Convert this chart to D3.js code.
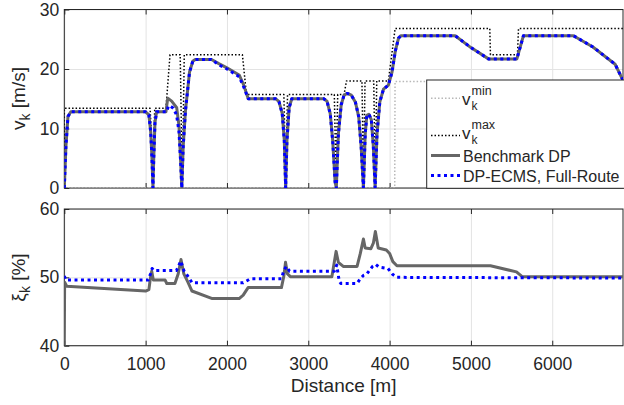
<!DOCTYPE html>
<html>
<head>
<meta charset="utf-8">
<script src="https://cdn.jsdelivr.net/npm/d3@7"></script>
<style>
body { margin: 0; background: #fff; }
text { font-family: "Liberation Sans", Arial, Helvetica, sans-serif; fill: #262626; }
</style>
</head>
<body>
<div id="chart"></div>
<script>
// ---- data ----
var xTicks = [0, 1000, 2000, 3000, 4000, 5000, 6000];
var vTicks = [0, 10, 20, 30];
var xiTicks = [40, 50, 60];

var vMinD = [0, 4063, 4067, 5245, 5250, 5560, 5565, 6870];
var vMinV = [0, 0, 17.9, 17.9, 0, 0, 17.9, 17.9];

var vMaxD = [0, 0, 1055, 1075, 1090, 1100, 1112, 1250, 1300, 1425, 1440, 1450, 1462, 1475, 2190, 2240, 2700, 2712, 2722, 2732, 2745, 3320, 3332, 3340, 3350, 3362, 3440, 3470, 3660, 3670, 3678, 3688, 3698, 3805, 3815, 3822, 3832, 3842, 3985, 4068, 5232, 5240, 5572, 5585, 6870];
var vMaxV = [0, 13.4, 13.4, 8, 0, 8, 13.4, 13.4, 22.4, 22.4, 10, 0, 10, 22.4, 22.4, 15.7, 15.7, 8, 0, 8, 15.7, 15.7, 8, 0, 8, 15.7, 15.7, 18, 18, 9, 0, 9, 18, 18, 9, 0, 9, 18, 18, 26.8, 26.8, 22.4, 22.4, 26.8, 26.8];

var dpD = [0, 20, 45, 80, 1000, 1040, 1062, 1078, 1090, 1100, 1115, 1135, 1250, 1272, 1320, 1382, 1410, 1432, 1445, 1462, 1490, 1540, 1580, 1610, 1810, 1900, 2000, 2150, 2200, 2262, 2600, 2640, 2680, 2705, 2722, 2738, 2765, 2797, 3190, 3230, 3270, 3300, 3330, 3345, 3370, 3405, 3440, 3480, 3530, 3580, 3620, 3650, 3678, 3700, 3720, 3745, 3775, 3800, 3822, 3845, 3880, 3925, 3985, 4030, 4070, 4110, 4140, 4806, 5000, 5216, 5565, 5646, 6261, 6500, 6773, 6870];
var dpV = [0, 7, 12, 12.8, 12.8, 12.3, 9.5, 5, 0, 5, 11, 12.8, 12.8, 15.1, 14.6, 13.5, 10.5, 4, 0, 7, 13, 19.5, 21.3, 21.6, 21.6, 20.9, 20.2, 19, 17.5, 15, 15, 14.5, 12.5, 8, 0, 8, 13.5, 15, 15, 14.6, 12.5, 8, 1, 0, 9, 14, 15.6, 15.9, 15.6, 14.4, 12, 7, 0, 9, 12.2, 12.4, 11.5, 7, 0, 9, 14.5, 16.6, 17.3, 19.5, 23, 25.2, 25.6, 25.6, 23.6, 21.7, 21.7, 25.6, 25.6, 23.7, 20.8, 18.1];

var ecD = [0, 20, 45, 80, 1000, 1040, 1062, 1078, 1090, 1100, 1115, 1135, 1260, 1280, 1300, 1340, 1380, 1410, 1432, 1445, 1462, 1490, 1540, 1580, 1610, 1810, 1900, 2000, 2150, 2200, 2262, 2600, 2640, 2680, 2705, 2722, 2738, 2765, 2797, 3190, 3230, 3270, 3300, 3330, 3345, 3370, 3405, 3440, 3480, 3530, 3580, 3620, 3650, 3678, 3700, 3720, 3745, 3775, 3800, 3822, 3845, 3880, 3925, 3985, 4030, 4070, 4110, 4140, 4806, 5000, 5216, 5565, 5646, 6261, 6500, 6773, 6870];
var ecV = [0, 7, 12, 12.8, 12.8, 12.3, 9.5, 5, 0, 5, 11, 12.8, 12.8, 13.8, 13.8, 13.4, 12.3, 9.5, 4, 0, 7, 13, 19.5, 21.3, 21.6, 21.6, 20.7, 20, 18.7, 17.2, 15, 15, 14.5, 12.5, 8, 0, 8, 13.5, 15, 15, 14.6, 12.5, 8, 1, 0, 9, 14, 15.6, 15.9, 15.6, 14.4, 12, 7, 0, 9, 12.2, 12.4, 11.5, 7, 0, 9, 14.5, 16.6, 17.3, 19.5, 23, 25.2, 25.6, 25.6, 23.6, 21.7, 21.7, 25.6, 25.6, 23.7, 20.8, 18.1];

var dpXiD = [0, 4, 30, 1000, 1040, 1060, 1075, 1095, 1240, 1260, 1360, 1400, 1435, 1470, 1520, 1570, 1820, 2150, 2200, 2260, 2670, 2700, 2720, 2745, 2780, 3290, 3310, 3342, 3370, 3430, 3600, 3640, 3678, 3700, 3770, 3800, 3825, 3860, 3960, 4000, 4040, 4090, 5240, 5560, 5630, 6870];
var dpXi = [40, 49.3, 48.7, 48.0, 48.2, 50.0, 50.9, 49.6, 49.6, 49.1, 49.1, 50.5, 52.6, 50.5, 49.3, 48.0, 46.9, 46.9, 47.4, 48.5, 48.5, 50.2, 52.2, 50.5, 50.1, 50.1, 51.5, 53.8, 52.2, 51.6, 51.6, 53.5, 55.6, 54.3, 54.2, 55.0, 56.7, 54.3, 54.0, 53.5, 52.3, 51.7, 51.7, 50.8, 50.1, 50.1];

var ecXiD = [0, 20, 1030, 1060, 1080, 1100, 1380, 1432, 1470, 1530, 1570, 2200, 2290, 2670, 2700, 2730, 2770, 3320, 3350, 3380, 3400, 3600, 3640, 3680, 3720, 3790, 3830, 3870, 3980, 4040, 4090, 6870];
var ecXi = [50.2, 49.6, 49.6, 50.5, 51.3, 51.0, 51.0, 52.4, 51.0, 50.0, 49.2, 49.2, 49.8, 49.8, 51.0, 51.6, 50.9, 50.9, 51.8, 49.5, 49.1, 49.1, 49.8, 50.3, 50.5, 51.6, 51.9, 51.5, 51.3, 50.4, 50.0, 49.9];

function pairs(d, v) {
	return d.map(function(dd, i) { return [dd, v[i]]; });
}

// ---- layout ----
var W = 624, H = 405;
var left = 64.3, right = 623;
var svg = d3.select("#chart").append("svg").attr("width", W).attr("height", H);

var x = d3.scaleLinear().domain([0, 6870]).range([left, right]);
var yTop = d3.scaleLinear().domain([0, 30]).range([188, 9.5]);
var yBot = d3.scaleLinear().domain([40, 60]).range([345.7, 209]);

function styleGrid(s) {
	s.select(".domain").remove();
	s.selectAll("line").attr("stroke", "#e3e3e3");
}

function styleTicks(s) {
	s.select(".domain").remove();
	s.selectAll("line").attr("stroke", "#262626");
	s.selectAll("text").attr("font-size", "17.5px").attr("fill", "#262626")
		.attr("font-family", "Liberation Sans, Arial, sans-serif");
}

function drawPanel(id, y, yticks, xlabels) {
	var g = svg.append("g");
	var top = y.range()[1], bot = y.range()[0];
	svg.append("clipPath").attr("id", id).append("rect")
		.attr("x", left).attr("y", top).attr("width", right - left).attr("height", bot - top);

	// grid
	g.append("g").attr("transform", "translate(0," + bot + ")")
		.call(d3.axisBottom(x).tickValues(xTicks).tickSize(-(bot - top)).tickFormat(""))
		.call(styleGrid);
	g.append("g").attr("transform", "translate(" + left + ",0)")
		.call(d3.axisLeft(y).tickValues(yticks).tickSize(-(right - left)).tickFormat(""))
		.call(styleGrid);

	// box
	g.append("rect").attr("x", left).attr("y", top).attr("width", right - left).attr("height", bot - top)
		.attr("fill", "none").attr("stroke", "#262626").attr("stroke-width", 1);

	// ticks (inward, all sides)
	g.append("g").attr("transform", "translate(0," + bot + ")")
		.call(d3.axisBottom(x).tickValues(xTicks).tickSize(-5).tickPadding(12)
			.tickFormat(xlabels ? d3.format("d") : ""))
		.call(styleTicks);
	g.append("g").attr("transform", "translate(0," + top + ")")
		.call(d3.axisTop(x).tickValues(xTicks).tickSize(-5).tickFormat(""))
		.call(styleTicks);
	g.append("g").attr("transform", "translate(" + left + ",0)")
		.call(d3.axisLeft(y).tickValues(yticks).tickSize(-5).tickPadding(5).tickFormat(d3.format("d")))
		.call(styleTicks);
	return g;
}

drawPanel("clipTop", yTop, vTicks, false);
drawPanel("clipBot", yBot, xiTicks, true);

function drawLine(y, clip, data, color, width, dash) {
	var line = d3.line().x(function(d) { return x(d[0]); }).y(function(d) { return y(d[1]); });
	svg.append("path")
		.attr("clip-path", "url(#" + clip + ")")
		.attr("d", line(data))
		.attr("fill", "none")
		.attr("stroke", color)
		.attr("stroke-width", width)
		.attr("stroke-linejoin", "round")
		.attr("stroke-dasharray", dash);
}

drawLine(yTop, "clipTop", pairs(vMinD, vMinV), "#b8b8b8", 1.5, "1.5,2");
drawLine(yTop, "clipTop", pairs(vMaxD, vMaxV), "#000", 1.5, "1.5,2");
drawLine(yTop, "clipTop", pairs(dpD, dpV), "#666", 3, null);
drawLine(yTop, "clipTop", pairs(ecD, ecV), "#0000ff", 3, "3,3.5");

drawLine(yBot, "clipBot", pairs(dpXiD, dpXi), "#666", 3, null);
drawLine(yBot, "clipBot", pairs(ecXiD, ecXi), "#0000ff", 3, "3,3.5");

// axis labels
var yl1 = svg.append("text").attr("transform", "translate(25,98.5) rotate(-90)")
	.attr("text-anchor", "middle").attr("font-size", "19px");
yl1.append("tspan").text("v");
yl1.append("tspan").attr("font-size", "14px").attr("dy", 5).text("k");
yl1.append("tspan").attr("dy", -5).text(" [m/s]");

var yl2 = svg.append("text").attr("transform", "translate(25,277.5) rotate(-90)")
	.attr("text-anchor", "middle").attr("font-size", "19px");
yl2.append("tspan").text("\u03be");
yl2.append("tspan").attr("font-size", "14px").attr("dy", 5).text("k");
yl2.append("tspan").attr("dy", -5).text(" [%]");

svg.append("text").attr("x", (left + right) / 2).attr("y", 392)
	.attr("text-anchor", "middle").attr("font-size", "19px").text("Distance [m]");

// legend
var lg = svg.append("g");
lg.append("rect").attr("x", 426.7).attr("y", 80).attr("width", 210).attr("height", 108.3)
	.attr("fill", "#fff").attr("stroke", "#262626").attr("stroke-width", 1);

var legendItems = [
	{color: "#b8b8b8", width: 1.5, dash: "1.5,2", ly: 98.3},
	{color: "#000", width: 1.5, dash: "1.5,2", ly: 135.5},
	{color: "#666", width: 3, dash: null, ly: 155.5},
	{color: "#0000ff", width: 3, dash: "3,3.5", ly: 175.5}
];
legendItems.forEach(function(it) {
	lg.append("line").attr("x1", 431).attr("x2", 460).attr("y1", it.ly).attr("y2", it.ly)
		.attr("stroke", it.color).attr("stroke-width", it.width).attr("stroke-dasharray", it.dash);
});

function vLabel(base, sup) {
	lg.append("text").attr("x", 462).attr("y", base).attr("font-size", "17px").text("v");
	lg.append("text").attr("x", 471.5).attr("y", base - 10).attr("font-size", "12.5px").text(sup);
	lg.append("text").attr("x", 471.5).attr("y", base + 5).attr("font-size", "12px").text("k");
}
vLabel(105, "min");
vLabel(139, "max");
lg.append("text").attr("x", 463).attr("y", 161.5).attr("font-size", "16px").text("Benchmark DP");
lg.append("text").attr("x", 463).attr("y", 181.5).attr("font-size", "16px").text("DP-ECMS, Full-Route");
</script>
</body>
</html>
